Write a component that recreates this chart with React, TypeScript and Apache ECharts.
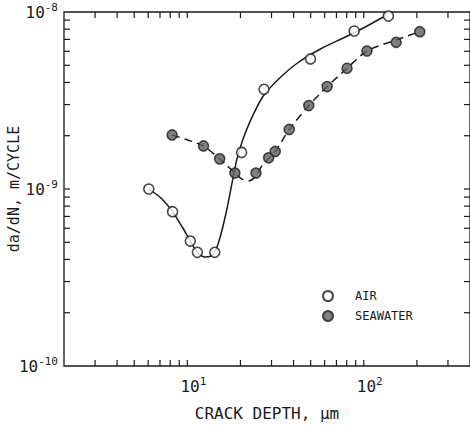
import React, { useEffect, useRef } from "react";
import * as echarts from "echarts";

// ---- data ----
const AIR_X = [6.05, 8.25, 10.4, 11.4, 14.3, 20.3, 27.2, 49.9, 88.3, 137.9];
const AIR_Y = [1.0e-9, 7.44e-10, 5.08e-10, 4.39e-10, 4.39e-10, 1.61e-9, 3.66e-9, 5.43e-9, 7.81e-9, 9.49e-9];

const SEA_X = [8.2, 12.35, 15.26, 18.6, 24.5, 28.9, 31.5, 37.8, 48.8, 62.0, 80.4, 104.2, 152.6, 207.7];
const SEA_Y = [2.02e-9, 1.75e-9, 1.48e-9, 1.23e-9, 1.23e-9, 1.5e-9, 1.63e-9, 2.17e-9, 2.96e-9, 3.79e-9, 4.81e-9, 6.02e-9, 6.74e-9, 7.74e-9];

// fitted curves
const AIR_FIT_X = [6.05, 7.09, 8.25, 9.43, 10.4, 11.46, 12.56, 13.58, 14.49, 15.46, 16.72, 17.84, 19.05, 20.59, 22.85, 26.7, 32.5, 42.1, 56.8, 78.6, 102, 128.9];
const AIR_FIT_Y = [1.0e-9, 8.89e-10, 7.44e-10, 6.02e-10, 5.08e-10, 4.35e-10, 4.13e-10, 4.18e-10, 4.52e-10, 5.5e-10, 7.61e-10, 1.054e-9, 1.46e-9, 1.89e-9, 2.45e-9, 3.31e-9, 4.13e-9, 5.15e-9, 6.18e-9, 7.22e-9, 8.23e-9, 9.37e-9];

const SEA_FIT_X = [8.2, 10.07, 12.35, 15.26, 18.6, 20.32, 22.26, 24.38, 26.7, 31.5, 37.8, 48.8, 62.0, 80.4, 104.2, 152.6, 207.7];
const SEA_FIT_Y = [2.02e-9, 1.89e-9, 1.75e-9, 1.48e-9, 1.23e-9, 1.14e-9, 1.11e-9, 1.18e-9, 1.37e-9, 1.63e-9, 2.17e-9, 2.96e-9, 3.79e-9, 4.81e-9, 6.02e-9, 6.95e-9, 7.74e-9];

// axis ranges and tick positions
const X_MIN = 2;
const X_MAX = 400;
const Y_MIN = 1e-10;
const Y_MAX = 1e-8;
const X_TICKS = [3, 4, 5, 6, 7, 8, 9, 10, 20, 30, 40, 50, 60, 70, 80, 90, 100, 200, 300];
const Y_TICKS = [2e-10, 3e-10, 4e-10, 5e-10, 6e-10, 7e-10, 8e-10, 9e-10, 1e-9, 2e-9, 3e-9, 4e-9, 5e-9, 6e-9, 7e-9, 8e-9, 9e-9];

const X_TITLE = "CRACK DEPTH, μm";
const Y_TITLE = "da/dN, m/CYCLE";
const SERIES_NAMES = ["AIR", "SEAWATER"];

const FONT = "DejaVu Sans Mono";
const INK = "#1a1a1a";

function zip(xs: number[], ys: number[]) {
  return xs.map((x, i) => [x, ys[i]]);
}

function powLabel(v: number, padLeft: number) {
  const e = Math.log10(v);
  const r = Math.round(e);
  if (Math.abs(e - r) > 1e-6) return "";
  return padLeft > 0 ? `{bp|10}{s|${r}}` : `{b|10}{s|${r}}`;
}

export default function App() {
  const ref = useRef<HTMLDivElement>(null);
  useEffect(() => {
    if (!ref.current) return;
    const chart = echarts.init(ref.current, null, { renderer: "svg" });
    const TL = 6;
    const tickStyle = { stroke: INK, lineWidth: 1.2 };
    const richBase = {
      b: { fontFamily: FONT, fontSize: 16, color: INK },
      bp: { fontFamily: FONT, fontSize: 16, color: INK, padding: [0, 0, 0, 12] },
      s: { fontFamily: FONT, fontSize: 11, color: INK, padding: [0, 0, 10, 0] },
    };
    chart.setOption({
      animation: false,
      backgroundColor: "#ffffff",
      grid: {
        left: 64,
        top: 12,
        width: 406,
        height: 354,
        show: true,
        containLabel: false,
        outerBoundsMode: "none",
        borderColor: INK,
        borderWidth: 1.3,
        backgroundColor: "transparent",
      },
      legend: {
        orient: "vertical",
        left: 322,
        top: 290,
        padding: 0,
        itemWidth: 10,
        itemHeight: 10,
        itemGap: 8,
        icon: "circle",
        data: SERIES_NAMES,
        textStyle: { fontFamily: FONT, fontSize: 12, color: INK, padding: [0, 0, 0, 17] },
      },
      xAxis: {
        type: "log",
        logBase: 10,
        min: X_MIN,
        max: X_MAX,
        axisLine: { show: false },
        axisTick: { show: false },
        splitLine: { show: false },
        axisLabel: {
          margin: 10,
          formatter: (v: number) => powLabel(v, 1),
          rich: richBase,
          showMinLabel: false,
          showMaxLabel: false,
        },
        name: X_TITLE,
        nameLocation: "middle",
        nameGap: 39,
        nameMoveOverlap: false,
        nameTextStyle: { fontFamily: FONT, fontSize: 16, color: INK },
      },
      yAxis: {
        type: "log",
        logBase: 10,
        min: Y_MIN,
        max: Y_MAX,
        axisLine: { show: false },
        axisTick: { show: false },
        splitLine: { show: false },
        axisLabel: {
          margin: 6,
          formatter: (v: number) => powLabel(v, 0),
          rich: richBase,
        },
        name: Y_TITLE,
        nameLocation: "middle",
        nameGap: 43,
        nameMoveOverlap: false,
        nameTextStyle: { fontFamily: FONT, fontSize: 15, color: INK },
      },
      series: [
        {
          name: "air-fit",
          type: "line",
          data: zip(AIR_FIT_X, AIR_FIT_Y),
          smooth: 0.25,
          showSymbol: false,
          symbol: "none",
          lineStyle: { color: INK, width: 1.5 },
          z: 2,
          silent: true,
        },
        {
          name: "sea-fit",
          type: "line",
          data: zip(SEA_FIT_X, SEA_FIT_Y),
          smooth: 0.25,
          showSymbol: false,
          symbol: "none",
          lineStyle: { color: INK, width: 1.5, type: [8, 5] },
          z: 2,
          silent: true,
        },
        {
          name: "AIR",
          type: "scatter",
          data: zip(AIR_X, AIR_Y),
          symbol: "circle",
          symbolSize: 10,
          itemStyle: { color: "#ffffff", borderColor: INK, borderWidth: 1.6 },
          z: 5,
        },
        {
          name: "SEAWATER",
          type: "scatter",
          data: zip(SEA_X, SEA_Y),
          symbol: "circle",
          symbolSize: 10,
          itemStyle: { color: "#606060", borderColor: "#222", borderWidth: 1.6 },
          z: 5,
        },
        {
          name: "x-ticks",
          type: "custom",
          silent: true,
          clip: false,
          data: X_TICKS.map((v) => [v, Y_MIN]),
          renderItem: (_p: any, api: any) => {
            const v = api.value(0);
            const b = api.coord([v, Y_MIN]);
            const t = api.coord([v, Y_MAX]);
            return {
              type: "group",
              children: [
                { type: "line", shape: { x1: b[0], y1: b[1], x2: b[0], y2: b[1] - TL }, style: tickStyle },
                { type: "line", shape: { x1: t[0], y1: t[1], x2: t[0], y2: t[1] + TL }, style: tickStyle },
              ],
            };
          },
          z: 3,
        },
        {
          name: "y-ticks",
          type: "custom",
          silent: true,
          clip: false,
          data: Y_TICKS.map((v) => [X_MIN, v]),
          renderItem: (_p: any, api: any) => {
            const v = api.value(1);
            const l = api.coord([X_MIN, v]);
            const r = api.coord([X_MAX, v]);
            return {
              type: "group",
              children: [
                { type: "line", shape: { x1: l[0], y1: l[1], x2: l[0] + TL, y2: l[1] }, style: tickStyle },
                { type: "line", shape: { x1: r[0], y1: r[1], x2: r[0] - TL, y2: r[1] }, style: tickStyle },
              ],
            };
          },
          z: 3,
        },
      ],
    });
    return () => chart.dispose();
  }, []);
  return (
    <div
      ref={ref}
      style={{ position: "fixed", left: 0, top: 0, width: 470, height: 426, background: "#fff" }}
    />
  );
}
